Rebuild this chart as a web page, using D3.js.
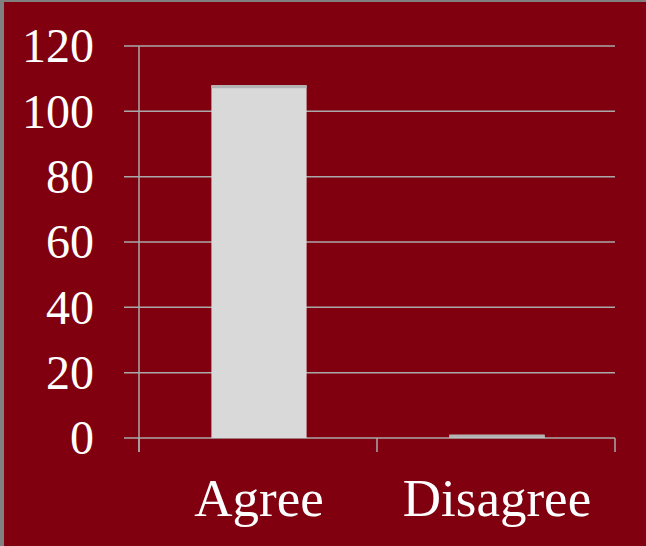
<!DOCTYPE html>
<html><head><meta charset="utf-8">
<script src="https://cdn.jsdelivr.net/npm/d3@7"></script>
<style>
html,body{margin:0;padding:0;background:#808080;}
svg{display:block;}
</style>
</head><body>
<script>
const categories = ["Agree", "Disagree"];
const values = [108, 1];
const yTicks = [0, 20, 40, 60, 80, 100, 120];

const W = 646, H = 546;
const svg = d3.select("body").append("svg").attr("width", W).attr("height", H);
svg.append("rect").attr("x", 4).attr("y", 2).attr("width", W - 4).attr("height", H - 2).attr("fill", "#80000f");

const x0 = 139, x1 = 615, yTop = 46, yBot = 438;
const x = d3.scaleBand().domain(categories).range([x0, x1]).paddingInner(0.6).paddingOuter(0.3);
const y = d3.scaleLinear().domain([0, 120]).range([yBot, yTop]);
const grid = "#a9a9a9";

// gridlines
svg.append("g").selectAll("line").data(yTicks).join("line")
  .attr("x1", 124).attr("x2", x1).attr("y1", d => y(d)).attr("y2", d => y(d))
  .attr("stroke", grid).attr("stroke-width", 1.5);

// y axis line
svg.append("line").attr("x1", x0).attr("x2", x0).attr("y1", yTop).attr("y2", yBot + 14)
  .attr("stroke", grid).attr("stroke-width", 1.5);

// category boundary ticks
const bounds = [x0, (x0 + x1) / 2, x1];
svg.append("g").selectAll("line").data(bounds).join("line")
  .attr("x1", d => d).attr("x2", d => d).attr("y1", yBot).attr("y2", yBot + 14)
  .attr("stroke", grid).attr("stroke-width", 1.5);

// bars
const bars = svg.append("g").selectAll("g").data(categories).join("g");
bars.append("rect")
  .attr("x", d => x(d) + 1).attr("width", x.bandwidth())
  .attr("y", (d, i) => y(values[i])).attr("height", (d, i) => yBot - y(values[i]))
  .attr("fill", "#d9d9d9");
bars.append("rect")
  .attr("x", d => x(d) + 1).attr("width", x.bandwidth())
  .attr("y", (d, i) => y(values[i])).attr("height", 3)
  .attr("fill", "#b3b3b3");

// y labels
svg.append("g").selectAll("text").data(yTicks).join("text")
  .attr("x", 94).attr("y", d => y(d)).attr("dy", "0.34em")
  .attr("text-anchor", "end")
  .attr("font-family", "'Liberation Serif', 'DejaVu Serif', serif")
  .attr("font-size", 48).attr("fill", "#ffffff")
  .text(d => d);

// x labels
svg.append("g").selectAll("text").data(categories).join("text")
  .attr("x", d => x(d) + 1 + x.bandwidth() / 2).attr("y", 516)
  .attr("text-anchor", "middle")
  .attr("font-family", "'Liberation Serif', 'DejaVu Serif', serif")
  .attr("font-size", 53).attr("fill", "#ffffff")
  .text(d => d);
</script>
</body></html>
